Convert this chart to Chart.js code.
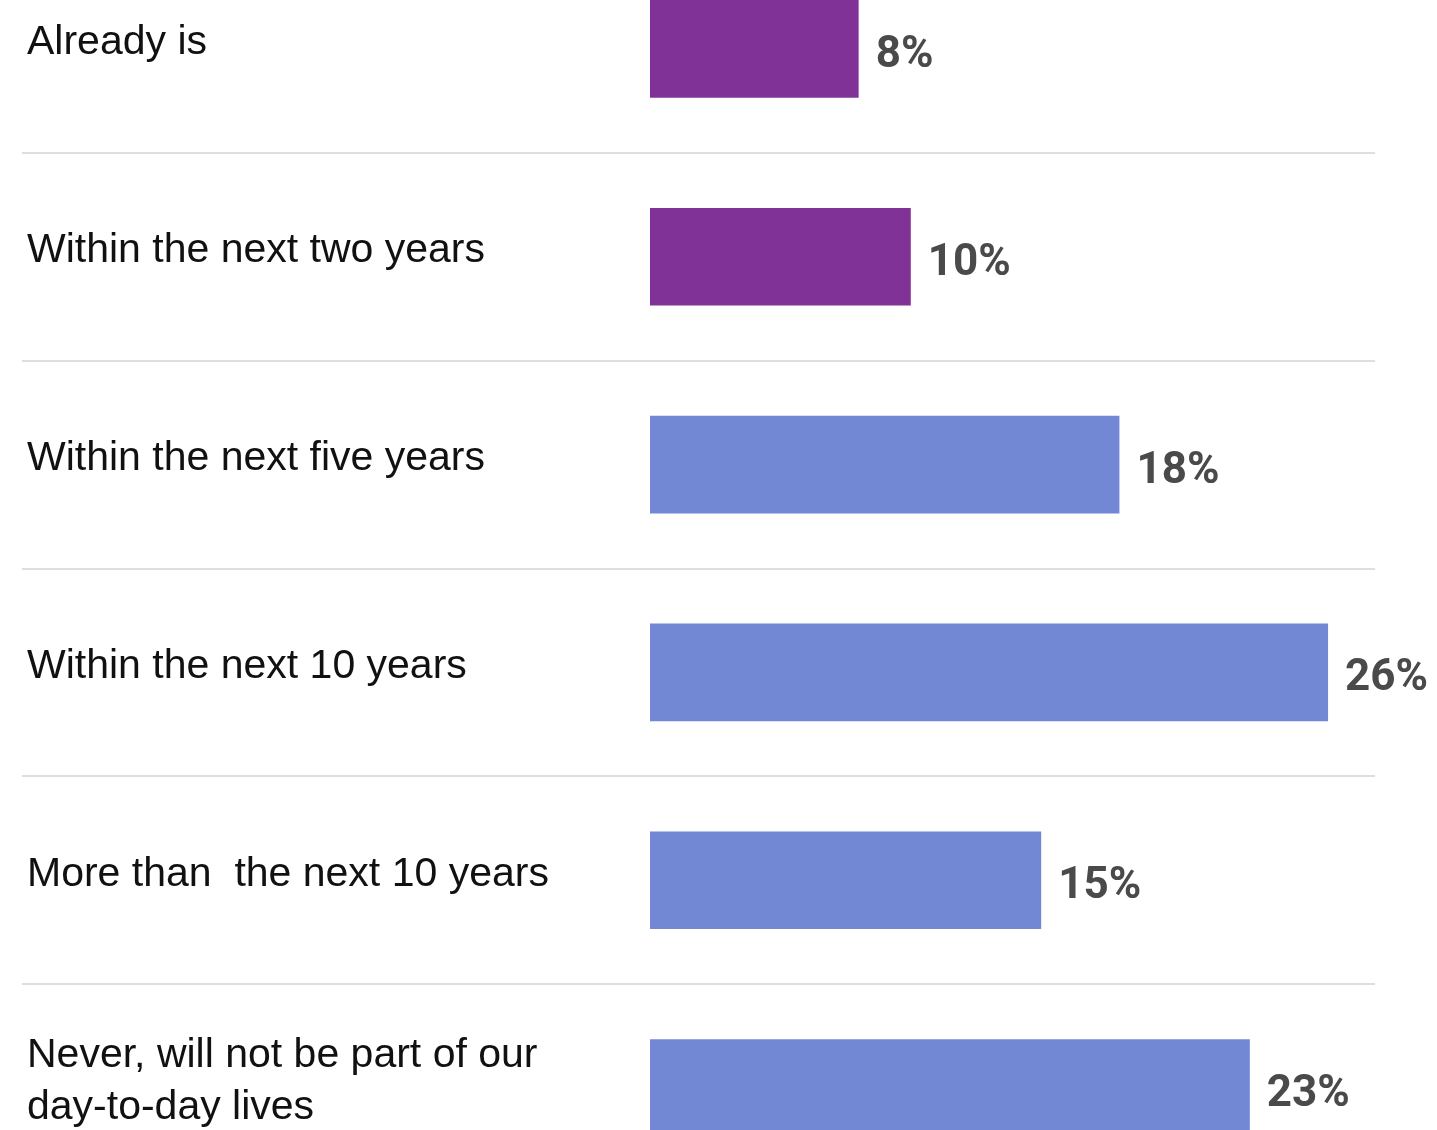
<!DOCTYPE html>
<html>
<head>
  <title>Timeline bars</title>
  <script src="https://cdn.jsdelivr.net/npm/chart.js@4.4.1/dist/chart.umd.min.js"></script>
  <style>
    body { margin: 0; background: #fff; overflow: hidden; }
    #wrap { position: absolute; left: 0; top: -55px; width: 1437px; height: 1247px; }
  </style>
</head>
<body>
  <div id="wrap">
    <canvas id="bars" width="1437" height="1247"></canvas>
  </div>
  <script>
    var categories = [
      "Already is",
      "Within the next two years",
      "Within the next five years",
      "Within the next 10 years",
      "More than  the next 10 years",
      ["Never, will not be part of our", "day-to-day lives"]
    ];
    var shares = [8, 10, 18, 26, 15, 23];
    var valueLabels = ["8%", "10%", "18%", "26%", "15%", "23%"];
    var highlighted = [true, true, false, false, false, false];

    var purple = "#803296";
    var blue = "#7288d4";

    // labels on the left and the percentages at bar ends
    var textPlugin = {
      id: "texts",
      afterDatasetsDraw: function(chart) {
        var ctx = chart.ctx;
        var y = chart.scales.y;
        var meta = chart.getDatasetMeta(0);
        ctx.save();
        ctx.fillStyle = "#111";
        ctx.font = "41px 'Liberation Sans', Arial, sans-serif";
        ctx.textAlign = "left";
        ctx.textBaseline = "middle";
        for (var i = 0; i < categories.length; i++) {
          var lines = [].concat(categories[i]);
          var cy = y.getPixelForValue(i) - 6;
          var start = cy - (lines.length - 1) * 26;
          for (var j = 0; j < lines.length; j++) {
            ctx.fillText(lines[j], 27, start + j * 52);
          }
        }
        ctx.fillStyle = "#4a4a4a";
        ctx.font = "bold 44px Roboto, 'Liberation Sans', sans-serif";
        meta.data.forEach(function(bar, i) {
          ctx.fillText(valueLabels[i], bar.x + 17, bar.y + 7);
        });
        ctx.restore();
      }
    };

    new Chart(document.getElementById("bars"), {
      type: "bar",
      data: {
        labels: categories,
        datasets: [{
          data: shares,
          backgroundColor: highlighted.map(function(h) { return h ? purple : blue; }),
          barPercentage: 0.47,
          categoryPercentage: 1,
          borderWidth: 0
        }]
      },
      options: {
        indexAxis: "y",
        responsive: false,
        animation: false,
        devicePixelRatio: 1,
        layout: { padding: { left: 0, right: 62, top: 0, bottom: 0 } },
        plugins: {
          legend: { display: false },
          tooltip: { enabled: false }
        },
        scales: {
          x: {
            display: false,
            min: 0,
            max: 27.8
          },
          y: {
            border: { display: false },
            ticks: { display: false },
            grid: {
              offset: true,
              color: "#dedede",
              lineWidth: 2,
              drawTicks: true,
              tickLength: 628
            },
            afterFit: function(scale) { scale.width = 650; }
          }
        }
      },
      plugins: [textPlugin]
    });
  </script>
</body>
</html>
